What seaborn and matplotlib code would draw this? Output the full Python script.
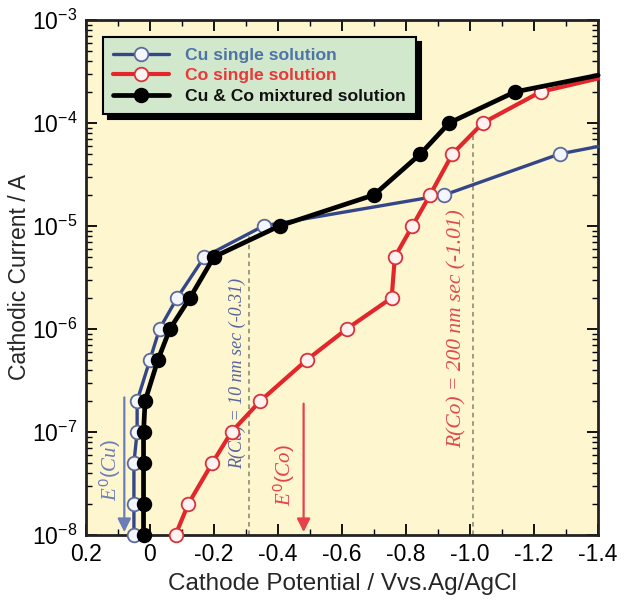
import numpy as np
import matplotlib
matplotlib.use("Agg")
import matplotlib.pyplot as plt
from matplotlib.lines import Line2D
from matplotlib.ticker import MultipleLocator, LogLocator, NullFormatter
import seaborn as sns

# Cathodic polarisation data (potential in V vs Ag/AgCl, current in A)
cu_potential = [0.05, 0.05, 0.05, 0.04, 0.04, 0.0, -0.03, -0.085, -0.17, -0.355, -0.92, -1.28, -1.40]
cu_current = [1e-8, 2e-8, 5e-8, 1e-7, 2e-7, 5e-7, 1e-6, 2e-6, 5e-6, 1e-5, 2e-5, 5e-5, 5.9e-5]

co_potential = [-0.08, -0.12, -0.195, -0.255, -0.345, -0.49, -0.615, -0.755, -0.765,
                -0.82, -0.875, -0.945, -1.04, -1.22, -1.40]
co_current = [1e-8, 2e-8, 5e-8, 1e-7, 2e-7, 5e-7, 1e-6, 2e-6, 5e-6,
              1e-5, 2e-5, 5e-5, 1e-4, 2e-4, 2.7e-4]

mix_potential = [0.02, 0.02, 0.02, 0.02, 0.015, -0.025, -0.0625, -0.125, -0.2,
                 -0.405, -0.70, -0.845, -0.935, -1.14, -1.40]
mix_current = [1e-8, 2e-8, 5e-8, 1e-7, 2e-7, 5e-7, 1e-6, 2e-6, 5e-6,
               1e-5, 2e-5, 5e-5, 1e-4, 2e-4, 2.9e-4]

series_labels = ["Cu single solution", "Co single solution", "Cu & Co mixtured solution"]

# Standard potentials and deposition-rate potentials
e0_cu, e0_co = 0.08, -0.48
rate_cu, rate_co = -0.31, -1.01
x_ticks = [0.2, 0.0, -0.2, -0.4, -0.6, -0.8, -1.0, -1.2, -1.4]
x_tick_labels = ["0.2", "0", "-0.2", "-0.4", "-0.6", "-0.8", "-1.0", "-1.2", "-1.4"]

sns.set_theme(style="ticks")
plt.rcParams["font.family"] = ["Liberation Sans", "DejaVu Sans"]
plt.rcParams["mathtext.fontset"] = "custom"
plt.rcParams["mathtext.rm"] = "Liberation Sans"
plt.rcParams["mathtext.it"] = "Liberation Serif:italic"

CU_COL = "#34468a"
CO_COL = "#e3262b"
MIX_COL = "#000000"

fig = plt.figure(figsize=(6.27, 6.03), dpi=100)
ax = fig.add_axes([0.137, 0.113, 0.817, 0.854])
ax.set_facecolor("#fdf6cf")

ax.set_yscale("log")

line_styles = [
    dict(color=CU_COL, linewidth=2.4, markerfacecolor="#f4f6ff", markeredgecolor="#5d6a9a"),
    dict(color=CO_COL, linewidth=3.0, markerfacecolor="#fff2f0", markeredgecolor="#d9323a"),
    dict(color=MIX_COL, linewidth=3.4, markerfacecolor="black", markeredgecolor="black"),
]
series = [(cu_potential, cu_current), (co_potential, co_current), (mix_potential, mix_current)]

for z, ((pot, cur), st) in enumerate(zip(series, line_styles)):
    sns.lineplot(x=pot, y=cur, ax=ax, sort=False, estimator=None,
                 marker="o", markersize=9.8, markeredgewidth=1.3,
                 markevery=list(range(len(pot) - 1)), zorder=3 + z, clip_on=False, **st)

ax.set_xlim(0.2, -1.4)
ax.set_ylim(1e-8, 1e-3)

# Dashed guides at the deposition-rate potentials, up to the curves
def curve_at(v, pot, cur):
    pot = np.asarray(pot)[::-1]
    lc = np.log10(np.asarray(cur))[::-1]
    return 10 ** np.interp(v, pot, lc)

ax.plot([rate_cu, rate_cu], [1e-8, curve_at(rate_cu, cu_potential, cu_current)],
        color="#86826a", linestyle=(0, (3, 2.5)), linewidth=1.1, zorder=2)
ax.plot([rate_co, rate_co], [1e-8, curve_at(rate_co, co_potential, co_current)],
        color="#86826a", linestyle=(0, (3, 2.5)), linewidth=1.1, zorder=2)

ax.text(-0.272, 3.7e-7, "R(Cu) = 10 nm sec (-0.31)", rotation=90, ha="center", va="center",
        fontsize=13, family="Liberation Serif", style="italic", color="#56649c", zorder=2)
ax.text(-0.958, 1.0e-6, "R(Co) = 200 nm sec (-1.01)", rotation=90, ha="center", va="center",
        fontsize=15.5, family="Liberation Serif", style="italic", color="#e04a4e", zorder=2)

# Standard-potential arrows
ax.annotate("", xy=(e0_cu, 1e-8), xytext=(e0_cu, 2.3e-7),
            arrowprops=dict(arrowstyle="-|>", color="#6b7db8", lw=1.6, mutation_scale=20),
            zorder=2)
ax.annotate("", xy=(e0_co, 1e-8), xytext=(e0_co, 2e-7),
            arrowprops=dict(arrowstyle="-|>", color="#e8404a", lw=1.6, mutation_scale=20),
            zorder=2)
ax.text(0.122, 4.3e-8, r"$\mathit{E^{0}(Cu)}$", rotation=90, ha="center", va="center",
        fontsize=15, color="#6b7db8")
ax.text(-0.42, 3.8e-8, r"$\mathit{E^{0}(Co)}$", rotation=90, ha="center", va="center",
        fontsize=15, color="#e8404a")

# Axes, ticks and labels
ax.set_xticks(x_ticks)
ax.set_xticklabels(x_tick_labels)
ax.xaxis.set_minor_locator(MultipleLocator(0.1))
ax.yaxis.set_major_locator(LogLocator(base=10, numticks=10))
ax.yaxis.set_minor_locator(LogLocator(base=10, subs=np.arange(2, 10), numticks=20))
ax.yaxis.set_minor_formatter(NullFormatter())
ax.tick_params(which="both", direction="in", top=True, right=True, colors="black")
ax.tick_params(which="major", length=8, width=1.3, labelsize=16.5, pad=6)
ax.tick_params(which="minor", length=4, width=1.0)
for sp in ax.spines.values():
    sp.set_linewidth(2.0)
    sp.set_color("#222222")

ax.set_xlabel("Cathode Potential / Vvs.Ag/AgCl", fontsize=17.5, labelpad=5)
ax.set_ylabel("Cathodic Current / A", fontsize=16.5, labelpad=1)

handles = [Line2D([], [], marker="o", markersize=9.8, markeredgewidth=1.3, **st)
           for st in line_styles]
leg = ax.legend(handles, series_labels, loc="upper left", bbox_to_anchor=(0.033, 0.967),
                borderaxespad=0, fancybox=False, frameon=True, handlelength=3.2,
                prop={"weight": "bold", "size": 12.6}, labelspacing=0.3,
                borderpad=0.6, handletextpad=0.9,
                shadow={"ox": 3.5, "oy": -3.5, "facecolor": "black",
                        "edgecolor": "black", "alpha": 1})
leg.get_frame().set_facecolor("#d2e8cc")
leg.get_frame().set_edgecolor("black")
leg.get_frame().set_linewidth(1.5)
leg.get_frame().set_alpha(1)
leg.set_zorder(10)
for txt, col in zip(leg.get_texts(), ["#4e74a6", "#e8383a", "#111111"]):
    txt.set_color(col)

fig.savefig("out.png", dpi=100, facecolor="white")
